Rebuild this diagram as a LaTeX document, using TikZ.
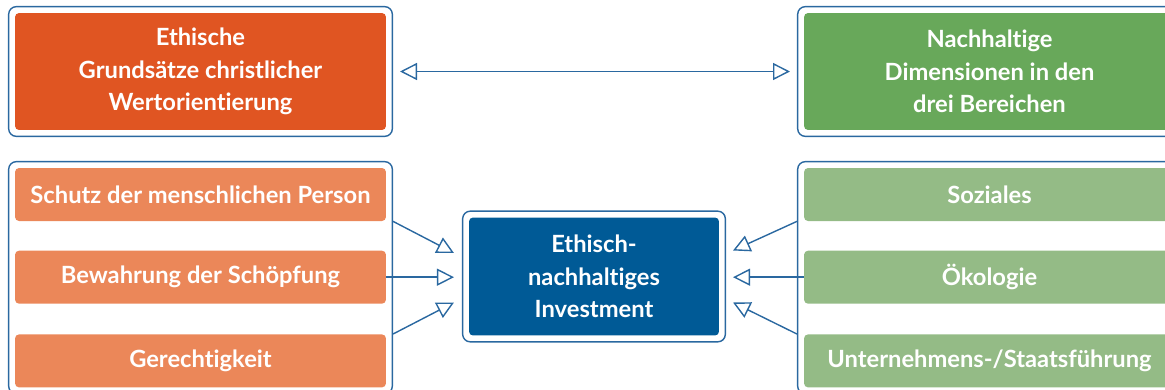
\documentclass[tikz,border=0pt]{standalone}
\usepackage{fontspec}
\setmainfont{Lato}[Ligatures={NoCommon,NoContextual,NoRare}]
\usetikzlibrary{positioning, fit, arrows.meta}

\definecolor{ethorange}{HTML}{E05522}
\definecolor{lightorange}{HTML}{EB8759}
\definecolor{nachgreen}{HTML}{68A85A}
\definecolor{lightgreen}{HTML}{94BB86}
\definecolor{investblue}{HTML}{005A96}
\definecolor{framecol}{HTML}{2A68A0}

\tikzset{
	box/.style={rounded corners=0.08cm, text=white, align=center, inner sep=0pt,
		font=\bfseries\fontsize{13.5}{18.4}\selectfont},
	bigbox/.style={box, minimum width=7.42cm, minimum height=2.34cm},
	smallbox/.style={box, minimum width=7.42cm, minimum height=1.06cm},
	frame/.style={draw=framecol, line width=0.8pt, rounded corners=0.15cm, inner sep=0.12cm},
	opentip/.tip={Triangle[open, length=0.34cm, width=0.34cm]},
	link/.style={draw=framecol, line width=0.8pt, -opentip}
}

\begin{document}
\begin{tikzpicture}[x=0.02cm, y=-0.02cm]
	\useasboundingbox (0,0) rectangle (1165,389);
	% top row
	\node[bigbox, fill=ethorange] (ethik) at (200.5,71.5) {Ethische\\Grundsätze christlicher\\Wertorientierung};
	\node[bigbox, fill=nachgreen] (nachhaltig) at (989.5,71.5) {Nachhaltige\\Dimensionen in den\\drei Bereichen};
	\node[frame, fit=(ethik)] (ethikframe) {};
	\node[frame, fit=(nachhaltig)] (nachhaltigframe) {};
	\draw[link, opentip-opentip, shorten <=0.14cm, shorten >=0.14cm] (ethikframe.east) -- (nachhaltigframe.west);
	% left column
	\node[smallbox, fill=lightorange] (schutz) at (200.5,194.5) {Schutz der menschlichen Person};
	\node[smallbox, fill=lightorange, below=0.58cm of schutz] (bewahrung) {Bewahrung der Schöpfung};
	\node[smallbox, fill=lightorange, below=0.6cm of bewahrung] (gerecht) {Gerechtigkeit};
	\node[frame, fit=(schutz)(gerecht)] (leftframe) {};
	% right column
	\node[smallbox, fill=lightgreen] (soziales) at (989.5,194.5) {Soziales};
	\node[smallbox, fill=lightgreen, below=0.58cm of soziales] (oekologie) {Ökologie};
	\node[smallbox, fill=lightgreen, below=0.6cm of oekologie] (fuehrung) {Unternehmens-/Staatsführung};
	\node[frame, fit=(soziales)(fuehrung)] (rightframe) {};
	% centre
	\node[box, fill=investblue, minimum width=5cm, minimum height=2.36cm] (invest) at (594,276.5) {Ethisch-\\nachhaltiges\\Investment};
	\node[frame, fit=(invest)] (investframe) {};
	\coordinate (inA) at ([xshift=-0.16cm, yshift=0.47cm]investframe.west);
	\coordinate (inB) at ([xshift=-0.16cm]investframe.west);
	\coordinate (inC) at ([xshift=-0.16cm, yshift=-0.52cm]investframe.west);
	\coordinate (outA) at ([xshift=0.14cm, yshift=0.52cm]investframe.east);
	\coordinate (outB) at ([xshift=0.14cm]investframe.east);
	\coordinate (outC) at ([xshift=0.14cm, yshift=-0.52cm]investframe.east);
	\draw[link] (leftframe.east |- schutz.south) -- (inA);
	\draw[link] (bewahrung.east) -- (bewahrung.east -| inB);
	\draw[link] (leftframe.east |- gerecht.north) -- (inC);
	\draw[link] (rightframe.west |- soziales.south) -- (outA);
	\draw[link] (oekologie.west) -- (oekologie.west -| outB);
	\draw[link] (rightframe.west |- fuehrung.north) -- (outC);
\end{tikzpicture}
\end{document}
